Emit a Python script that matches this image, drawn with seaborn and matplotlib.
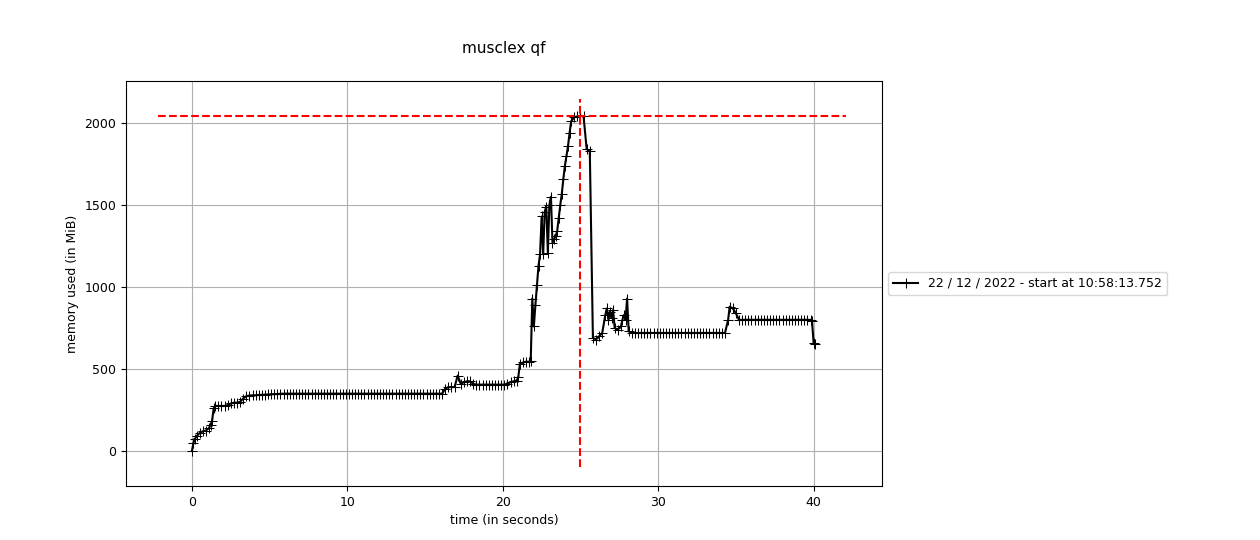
"""
mprof-style memory usage plot for musclex qf.
"""
import pandas as pd
import matplotlib
matplotlib.use("Agg")
import matplotlib.pyplot as plt
import seaborn as sns

time_s = [
    0.0, 0.1, 0.2, 0.3, 0.5, 0.7, 0.9, 1.1, 1.2, 1.3, 1.4, 1.5, 1.7, 1.9, 2.1, 2.3, 2.5,
    2.7, 2.9, 3.1, 3.3, 3.5, 3.7, 3.9, 4.1, 4.3, 4.5, 4.7, 4.9, 5.1, 5.3, 5.5, 5.7, 5.9,
    6.1, 6.3, 6.5, 6.7, 6.9, 7.1, 7.3, 7.5, 7.7, 7.9, 8.1, 8.3, 8.5, 8.7, 8.9,
    9.1, 9.3, 9.5, 9.7, 9.9, 10.1, 10.3, 10.5, 10.7, 10.9, 11.1, 11.3, 11.5, 11.7, 11.9,
    12.1, 12.3, 12.5, 12.7, 12.9, 13.1, 13.3, 13.5, 13.7, 13.9, 14.1, 14.3, 14.5, 14.7,
    14.9, 15.1, 15.3, 15.5, 15.7, 15.9, 16.1, 16.3, 16.5, 16.7, 16.9, 17.1, 17.3, 17.5,
    17.7, 17.9, 18.1, 18.3, 18.5, 18.7, 18.9, 19.1, 19.3, 19.5, 19.7, 19.9, 20.1, 20.3,
    20.5, 20.7, 20.9, 21.0, 21.1, 21.3, 21.5, 21.7, 21.8, 21.9, 22.0, 22.1, 22.2, 22.3,
    22.4, 22.5, 22.6, 22.7, 22.8, 22.9, 23.0, 23.1, 23.2, 23.3, 23.4, 23.5, 23.6, 23.7,
    23.8, 23.9, 24.0, 24.1, 24.2, 24.3, 24.4, 24.6, 24.8, 25.0, 25.2, 25.4, 25.6, 25.8,
    26.0, 26.2, 26.4, 26.6, 26.7, 26.8, 26.9, 27.0, 27.1, 27.2, 27.4, 27.6, 27.7, 27.8,
    27.9, 28.0, 28.1, 28.3, 28.5, 28.7, 28.9, 29.1, 29.3, 29.5, 29.7, 29.9, 30.1, 30.3,
    30.5, 30.7, 30.9, 31.1, 31.3, 31.5, 31.7, 31.9, 32.1, 32.3, 32.5, 32.7, 32.9, 33.1,
    33.3, 33.5, 33.7, 33.9, 34.1, 34.3, 34.5, 34.6, 34.8, 35.0, 35.2, 35.4, 35.6, 35.8,
    36.0, 36.2, 36.4, 36.6, 36.8, 37.0, 37.2, 37.4, 37.6, 37.8, 38.0, 38.2, 38.4, 38.6,
    38.8, 39.0, 39.2, 39.4, 39.6, 39.8, 39.9, 40.0, 40.1,
]
memory_mib = [
    0, 50, 75, 90, 110, 120, 125, 140, 160, 185, 260, 275, 275, 275, 275, 280, 290,
    295, 295, 300, 320, 335, 338, 340, 340, 342, 343, 344, 345, 346, 347, 348, 349, 350,
    350, 350, 350, 350, 350, 350, 350, 350, 350, 350, 350, 350, 350, 350, 350,
    350, 350, 350, 350, 350, 350, 350, 350, 350, 350, 350, 350, 350, 350, 350,
    350, 350, 350, 350, 350, 350, 350, 350, 350, 350, 350, 350, 350, 350,
    350, 350, 350, 350, 350, 350, 350, 380, 390, 390, 390, 460, 410, 420,
    425, 425, 410, 405, 405, 405, 405, 405, 405, 405, 405, 405, 405, 410,
    420, 425, 430, 450, 530, 540, 545, 545, 550, 930, 760, 890, 1010, 1130,
    1200, 1430, 1200, 1460, 1490, 1210, 1500, 1550, 1270, 1290, 1310, 1340, 1420, 1500,
    1570, 1660, 1740, 1800, 1860, 1940, 2010, 2035, 2040, 2045, 2040, 1840, 1830, 690,
    680, 700, 720, 830, 870, 800, 850, 810, 860, 750, 740, 760, 800, 830,
    800, 930, 730, 720, 720, 720, 720, 720, 720, 720, 720, 720, 720, 720,
    720, 720, 720, 720, 720, 720, 720, 720, 720, 720, 720, 720, 720, 720,
    720, 720, 720, 720, 720, 720, 800, 880, 870, 840, 800, 800, 800, 800,
    800, 800, 800, 800, 800, 800, 800, 800, 800, 800, 800, 800, 800, 800,
    800, 800, 800, 800, 800, 800, 790, 660, 650,
]
peak_time = 25.0
peak_mem = 2045
label = "22 / 12 / 2022 - start at 10:58:13.752"

df = pd.DataFrame({"time": time_s, "mem": memory_mib})

plt.rcParams["font.size"] = 9

fig, ax = plt.subplots(figsize=(12.6, 5.4), dpi=100)
fig.subplots_adjust(left=0.1, right=0.7, top=0.85, bottom=0.1)

sns.lineplot(data=df, x="time", y="mem", ax=ax, color="black", marker="+",
             markersize=7, markeredgecolor="black", label=label, estimator=None)

xmin, xmax = min(time_s), max(time_s)
span = xmax - xmin
ax.hlines(peak_mem, xmin - 0.055 * span, xmax + 0.05 * span, colors="red", linestyles="dashed")
ax.vlines(peak_time, -100, peak_mem + 100, colors="red", linestyles="dashed")

ax.set_xlim(-4.24, 44.4)
ax.set_ylim(-213, 2256)
ax.grid(True)
ax.set_xlabel("time (in seconds)")
ax.set_ylabel("memory used (in MiB)")
ax.set_title("musclex qf", pad=20, fontsize=11)
ax.legend(loc="center left", bbox_to_anchor=(1.0, 0.5))

fig.savefig("out.png", dpi=100)
